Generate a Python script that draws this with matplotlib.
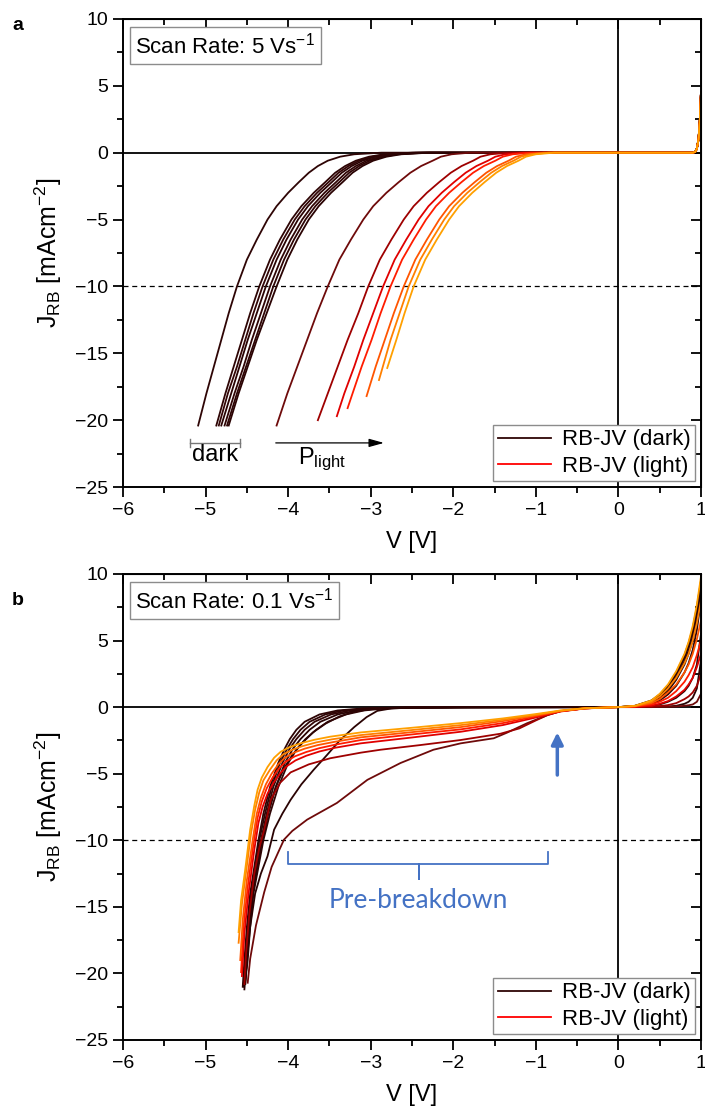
import matplotlib
matplotlib.use('Agg')
import numpy as np
import matplotlib.pyplot as plt
from matplotlib.lines import Line2D
from matplotlib.ticker import MultipleLocator

plt.rcParams['font.family'] = ['Liberation Sans', 'DejaVu Sans']
plt.rcParams['mathtext.default'] = 'regular'

# ---------------- panel a: 5 V/s ----------------
# J levels (mA/cm2) shared by the reverse branches, V read at each level
a_J = [-20.4, -18, -16, -14, -12, -10, -8, -6.5, -5, -4, -3, -2.2, -1.5, -1, -0.6, -0.3, -0.12, 0.0]
nan = np.nan
a_dark_V = [
    [-5.09, -4.99, -4.90, -4.81, -4.72, -4.62, -4.50, -4.38, -4.25, -4.14, -4.00, -3.87, -3.75, -3.64, -3.52, -3.37, -3.20, -2.87],
    [-4.87, -4.76, -4.66, -4.56, -4.46, -4.35, -4.22, -4.10, -3.96, -3.84, -3.69, -3.55, -3.43, -3.31, -3.18, -3.02, -2.84, -2.50],
    [-4.84, -4.73, -4.62, -4.52, -4.42, -4.31, -4.18, -4.06, -3.92, -3.80, -3.65, -3.51, -3.39, -3.27, -3.14, -2.98, -2.80, -2.46],
    [-4.81, -4.69, -4.59, -4.49, -4.38, -4.27, -4.14, -4.02, -3.88, -3.76, -3.61, -3.47, -3.35, -3.23, -3.10, -2.94, -2.76, -2.42],
    [-4.77, -4.65, -4.54, -4.44, -4.33, -4.22, -4.09, -3.97, -3.83, -3.71, -3.56, -3.42, -3.30, -3.18, -3.05, -2.89, -2.71, -2.37],
    [-4.74, -4.62, -4.51, -4.40, -4.29, -4.18, -4.05, -3.93, -3.79, -3.67, -3.52, -3.38, -3.26, -3.14, -3.01, -2.85, -2.67, -2.33],
    [-4.72, -4.60, -4.49, -4.38, -4.26, -4.14, -4.01, -3.89, -3.75, -3.63, -3.48, -3.34, -3.22, -3.10, -2.97, -2.81, -2.63, -2.29],
]
a_light_V = [
    [-4.14, -4.01, -3.89, -3.77, -3.65, -3.52, -3.38, -3.24, -3.09, -2.97, -2.81, -2.66, -2.52, -2.39, -2.25, -2.15, -2.02, -1.80],
    [nan, -3.52, -3.40, -3.28, -3.15, -3.03, -2.89, -2.75, -2.60, -2.48, -2.32, -2.17, -2.03, -1.90, -1.76, -1.67, -1.55, -1.33],
    [nan, -3.32, -3.20, -3.09, -2.97, -2.85, -2.71, -2.57, -2.42, -2.30, -2.14, -1.99, -1.85, -1.72, -1.58, -1.49, -1.37, -1.15],
    [nan, -3.22, -3.11, -2.99, -2.88, -2.76, -2.62, -2.48, -2.33, -2.21, -2.05, -1.90, -1.76, -1.63, -1.49, -1.40, -1.28, -1.06],
    [nan, nan, -2.94, -2.83, -2.72, -2.60, -2.46, -2.32, -2.17, -2.05, -1.89, -1.74, -1.60, -1.47, -1.33, -1.24, -1.12, -0.90],
    [nan, nan, nan, -2.76, -2.65, -2.54, -2.40, -2.26, -2.11, -1.99, -1.83, -1.68, -1.54, -1.41, -1.27, -1.18, -1.06, -0.84],
    [nan, nan, nan, -2.69, -2.59, -2.48, -2.34, -2.20, -2.05, -1.93, -1.77, -1.62, -1.48, -1.35, -1.21, -1.12, -1.00, -0.78],
]
# end points of the light curves
a_light_end_V = [-4.14, -3.64, -3.41, -3.28, -3.05, -2.90, -2.80]
a_light_end_J = [-20.4, -20.0, -19.7, -19.1, -18.2, -17.0, -16.1]
# forward branch near 1 V
a_fwd_V = [0.0, 0.9, 0.93, 0.95, 0.97, 0.985, 1.0]
a_fwd_J = [0.0, 0.0, 0.05, 0.3, 1.0, 2.3, 4.5]

# ---------------- panel b: 0.1 V/s ----------------
b_dark_V = [
    [-4.55, -4.53, -4.50, -4.46, -4.41, -4.36, -4.30, -4.22, -4.12, -4.04, -3.98, -3.90, -3.80, -3.62, -3.40, -3.10, -2.70, -2.00, 0.0],
    [-4.54, -4.52, -4.49, -4.45, -4.40, -4.35, -4.28, -4.20, -4.10, -4.01, -3.94, -3.85, -3.74, -3.55, -3.33, -3.03, -2.64, -1.95, 0.0],
    [-4.53, -4.51, -4.48, -4.44, -4.39, -4.33, -4.26, -4.18, -4.07, -3.98, -3.90, -3.80, -3.68, -3.48, -3.25, -2.96, -2.58, -1.90, 0.0],
    [-4.52, -4.50, -4.47, -4.43, -4.37, -4.31, -4.24, -4.15, -4.04, -3.94, -3.85, -3.74, -3.61, -3.40, -3.17, -2.89, -2.52, -1.85, 0.0],
    [-4.52, -4.49, -4.46, -4.42, -4.36, -4.30, -4.22, -4.12, -4.00, -3.89, -3.79, -3.66, -3.52, -3.30, -3.08, -2.82, -2.46, -1.80, 0.0],
    [-4.52, -4.50, -4.47, -4.43, -4.38, -4.32, -4.25, -4.15, -4.05, -3.95, -3.83, -3.70, -3.55, -3.38, -3.20, -3.00, -2.60, -1.90, 0.0],
    [-4.53, -4.50, -4.46, -4.40, -4.33, -4.25, -4.17, -4.07, -3.97, -3.84, -3.69, -3.53, -3.37, -3.20, -3.05, -2.92, -2.75, -2.50, 0.0],
]
b_dark_J = [
    [-21.0, -19.0, -16.5, -14.0, -12.0, -10.0, -8.0, -6.0, -4.2, -3.1, -2.4, -1.7, -1.1, -0.55, -0.25, -0.1, -0.04, -0.01, 0.0],
    [-21.0, -19.0, -16.5, -14.0, -12.0, -10.0, -8.0, -6.0, -4.2, -3.1, -2.4, -1.7, -1.1, -0.55, -0.25, -0.1, -0.04, -0.01, 0.0],
    [-20.8, -19.0, -16.5, -14.0, -12.0, -10.0, -8.0, -6.0, -4.2, -3.1, -2.4, -1.7, -1.1, -0.55, -0.25, -0.1, -0.04, -0.01, 0.0],
    [-20.8, -19.0, -16.5, -14.0, -12.0, -10.0, -8.0, -6.0, -4.2, -3.1, -2.4, -1.7, -1.1, -0.55, -0.25, -0.1, -0.04, -0.01, 0.0],
    [-20.6, -19.0, -16.5, -14.0, -12.0, -10.0, -8.0, -6.0, -4.2, -3.1, -2.4, -1.7, -1.1, -0.55, -0.25, -0.1, -0.04, -0.01, 0.0],
    [-20.8, -19.0, -16.5, -14.0, -12.0, -10.0, -8.0, -6.0, -4.6, -3.6, -2.7, -1.9, -1.25, -0.7, -0.35, -0.15, -0.04, -0.01, 0.0],
    [-21.2, -19.0, -16.5, -14.0, -12.5, -11.2, -9.2, -8.0, -6.96, -5.8, -4.7, -3.6, -2.47, -1.5, -0.75, -0.28, -0.1, -0.04, 0.0],
]
b_light_V = [
    [-4.49, -4.46, -4.39, -4.29, -4.20, -4.12, -4.05, -3.95, -3.77, -3.41, -3.04, -2.64, -2.24, -1.91, -1.51, -1.35, -1.11, -0.86, -0.70, -0.40, 0.0],
    [-4.53, -4.51, -4.47, -4.41, -4.35, -4.29, -4.21, -4.10, -3.97, -3.75, -3.49, -3.12, -2.88, -2.40, -1.91, -1.43, -1.20, -1.00, -0.86, -0.70, -0.40, 0.0],
    [-4.56, -4.53, -4.48, -4.41, -4.36, -4.31, -4.25, -4.18, -4.10, -4.02, -3.91, -3.78, -3.62, -3.43, -3.12, -2.50, -1.91, -1.40, -1.00, -0.70, -0.40, 0.0],
    [-4.57, -4.54, -4.49, -4.42, -4.37, -4.32, -4.26, -4.19, -4.11, -4.03, -3.92, -3.78, -3.62, -3.43, -3.12, -2.50, -1.91, -1.40, -1.00, -0.70, -0.40, 0.0],
    [-4.58, -4.55, -4.50, -4.43, -4.38, -4.33, -4.27, -4.20, -4.12, -4.04, -3.93, -3.80, -3.64, -3.45, -3.12, -2.50, -1.91, -1.40, -1.00, -0.70, -0.40, 0.0],
    [-4.60, -4.56, -4.51, -4.45, -4.40, -4.35, -4.30, -4.22, -4.14, -4.06, -3.95, -3.82, -3.66, -3.47, -3.12, -2.50, -1.91, -1.40, -1.00, -0.70, -0.40, 0.0],
    [-4.60, -4.57, -4.52, -4.46, -4.41, -4.37, -4.32, -4.25, -4.17, -4.09, -3.98, -3.85, -3.68, -3.49, -3.12, -2.50, -1.91, -1.40, -1.00, -0.70, -0.40, 0.0],
]
b_light_J = [
    [-20.7, -18.9, -16.4, -13.9, -12.0, -10.9, -9.95, -9.3, -8.45, -7.2, -5.46, -4.2, -3.2, -2.72, -2.34, -1.92, -1.22, -0.6, -0.3, -0.09, 0.0],
    [-20.8, -18.5, -15.5, -12.5, -10.6, -9.2, -6.96, -5.7, -4.9, -4.3, -3.84, -3.42, -3.2, -2.85, -2.47, -2.0, -1.6, -1.0, -0.6, -0.3, -0.09, 0.0],
    [-20.2, -17.0, -14.0, -10.7, -8.7, -7.5, -6.5, -5.7, -5.0, -4.45, -4.0, -3.65, -3.33, -3.05, -2.72, -2.28, -1.85, -1.35, -0.78, -0.33, -0.10, 0.0],
    [-19.9, -16.5, -13.5, -10.3, -8.3, -7.1, -6.1, -5.3, -4.6, -4.1, -3.7, -3.37, -3.08, -2.82, -2.47, -2.05, -1.67, -1.2, -0.7, -0.31, -0.09, 0.0],
    [-19.0, -16.0, -13.0, -10.0, -8.0, -6.8, -5.8, -5.0, -4.3, -3.8, -3.42, -3.12, -2.85, -2.62, -2.27, -1.88, -1.5, -1.05, -0.63, -0.29, -0.09, 0.0],
    [-17.7, -14.8, -12.4, -9.5, -7.7, -6.4, -5.5, -4.7, -4.0, -3.55, -3.2, -2.92, -2.65, -2.42, -2.1, -1.72, -1.35, -0.95, -0.58, -0.27, -0.08, 0.0],
    [-16.9, -14.5, -12.2, -9.2, -7.4, -6.2, -5.3, -4.5, -3.8, -3.35, -3.0, -2.72, -2.45, -2.22, -1.9, -1.55, -1.2, -0.85, -0.52, -0.25, -0.08, 0.0],
]
b_fwd_V = [0.0, 0.2, 0.4, 0.5, 0.6, 0.7, 0.8, 0.85, 0.9, 0.95, 1.0]
b_dark_fwd_J = [
    [0, 0.1, 0.5, 0.95, 1.6, 2.6, 3.9, 4.8, 5.9, 7.5, 9.5],
    [0, 0.09, 0.45, 0.9, 1.5, 2.45, 3.7, 4.55, 5.6, 7.2, 9.2],
    [0, 0.08, 0.4, 0.8, 1.35, 2.25, 3.45, 4.25, 5.3, 6.8, 8.8],
    [0, 0.07, 0.35, 0.7, 1.2, 2.05, 3.2, 4.0, 5.0, 6.5, 8.5],
    [0, 0.05, 0.25, 0.5, 0.95, 1.6, 2.6, 3.3, 4.3, 5.8, 8.0],
    [0, 0.02, 0.1, 0.2, 0.4, 0.7, 1.2, 1.6, 2.2, 3.2, 5.5],
    [0, 0.0, 0.02, 0.03, 0.05, 0.1, 0.25, 0.4, 0.7, 1.4, 3.5],
]
b_light_fwd_J = [
    [0, 0.0, 0.0, 0.01, 0.02, 0.05, 0.1, 0.14, 0.2, 0.4, 1.0],
    [0, 0.01, 0.04, 0.08, 0.15, 0.3, 0.6, 0.8, 1.1, 1.6, 2.5],
    [0, 0.02, 0.1, 0.25, 0.45, 0.8, 1.3, 1.7, 2.2, 3.0, 4.0],
    [0, 0.04, 0.2, 0.4, 0.7, 1.2, 1.9, 2.4, 3.0, 3.9, 5.0],
    [0, 0.06, 0.3, 0.6, 1.1, 1.7, 2.6, 3.2, 4.0, 5.1, 6.5],
    [0, 0.08, 0.4, 0.8, 1.4, 2.2, 3.3, 4.0, 5.0, 6.3, 8.0],
    [0, 0.1, 0.5, 1.0, 1.7, 2.7, 4.0, 4.9, 6.1, 7.7, 9.8],
]

dark_colors = ['#2e0505', '#2e0505', '#330606', '#2b0404', '#300505', '#2e0505', '#2a0303']
light_colors = ['#6e0a0a', '#9e0000', '#e00000', '#ff1c00', '#ff5500', '#ff8000', '#ffa000']
blue = '#4472c4'
LW = 1.3


def style_axes(ax):
    ax.set_xlim(-6, 1)
    ax.set_ylim(-25, 10)
    ax.xaxis.set_major_locator(MultipleLocator(1))
    ax.xaxis.set_minor_locator(MultipleLocator(0.5))
    ax.yaxis.set_major_locator(MultipleLocator(5))
    ax.yaxis.set_minor_locator(MultipleLocator(2.5))
    ax.tick_params(which='both', direction='out', width=1.3, labelsize=14)
    ax.tick_params(which='major', length=7)
    ax.tick_params(which='minor', length=4)
    for sp in ax.spines.values():
        sp.set_linewidth(1.4)
    # inward ticks on top and right
    top = ax.secondary_xaxis('top')
    top.xaxis.set_major_locator(MultipleLocator(1))
    top.xaxis.set_minor_locator(MultipleLocator(0.5))
    top.tick_params(which='both', direction='in', width=1.3, labeltop=False)
    top.tick_params(which='major', length=7)
    top.tick_params(which='minor', length=4)
    right = ax.secondary_yaxis('right')
    right.yaxis.set_major_locator(MultipleLocator(5))
    right.yaxis.set_minor_locator(MultipleLocator(2.5))
    right.tick_params(which='both', direction='in', width=1.3, labelright=False)
    right.tick_params(which='major', length=7)
    right.tick_params(which='minor', length=4)
    ax.axhline(0, color='black', lw=1.3, zorder=1)
    ax.axvline(0, color='black', lw=1.3, zorder=1)
    ax.axhline(-10, color='black', lw=0.9, ls=(0, (4, 3)), zorder=1)
    ax.set_xlabel('V [V]', fontsize=17, labelpad=9)
    ax.set_ylabel(r'J$_{RB}$ [mAcm$^{-2}$]', fontsize=18, labelpad=8)
    handles = [Line2D([], [], color='#2e0505', lw=1.3), Line2D([], [], color='#ff0000', lw=1.3)]
    leg = ax.legend(handles, ['RB-JV (dark)', 'RB-JV (light)'], loc='lower right',
                    fontsize=16, frameon=True, fancybox=False, framealpha=1,
                    edgecolor='#8c8c8c', borderaxespad=0.25, handlelength=2.4,
                    handletextpad=0.5, borderpad=0.2, labelspacing=0.25)
    leg.get_frame().set_linewidth(1.0)


fig = plt.figure(figsize=(7.05, 11.13), dpi=100)
ax1 = fig.add_axes([0.1745, 0.5624, 0.8198, 0.4206])
ax2 = fig.add_axes([0.1745, 0.0656, 0.8198, 0.4187])

# panel a curves
for i, v in enumerate(a_dark_V):
    ax1.plot(list(v) + a_fwd_V, list(a_J) + a_fwd_J, color=dark_colors[i], lw=LW, zorder=2)
for i, v in enumerate(a_light_V):
    vv = [a_light_end_V[i]] + [x for x in v if not np.isnan(x)] + a_fwd_V
    jj = [a_light_end_J[i]] + [j for x, j in zip(v, a_J) if not np.isnan(x)] + a_fwd_J
    ax1.plot(vv, jj, color=light_colors[i], lw=LW, zorder=2)

# panel b curves
for i in range(len(b_dark_V)):
    ax2.plot(b_dark_V[i] + b_fwd_V, b_dark_J[i] + b_dark_fwd_J[i],
             color=dark_colors[i], lw=LW, zorder=2)
for i in range(len(b_light_V)):
    ax2.plot(b_light_V[i] + b_fwd_V, b_light_J[i] + b_light_fwd_J[i],
             color=light_colors[i], lw=LW, zorder=2)

style_axes(ax1)
style_axes(ax2)

# scan rate boxes
box = dict(boxstyle='square,pad=0.25', fc='white', ec='#8c8c8c', lw=1.0)
ax1.text(-5.85, 8.0, r'Scan Rate: 5 Vs$^{-1}$', fontsize=16, va='center', ha='left', bbox=box)
ax2.text(-5.85, 8.0, r'Scan Rate: 0.1 Vs$^{-1}$', fontsize=16, va='center', ha='left', bbox=box)

# panel a annotations
ax1.plot([-5.19, -4.58], [-21.7, -21.7], color='#777777', lw=1.0)
ax1.plot([-5.19, -5.19], [-21.4, -22.0], color='#777777', lw=1.0)
ax1.plot([-4.58, -4.58], [-21.4, -22.0], color='#777777', lw=1.0)
ax1.text(-4.88, -22.6, 'dark', fontsize=17, ha='center', va='center')
ax1.annotate('', xy=(-2.84, -21.7), xytext=(-4.15, -21.7),
             arrowprops=dict(arrowstyle='-|>,head_length=0.9,head_width=0.25', color='black',
                             lw=0.9, shrinkA=0, shrinkB=0))
ax1.text(-3.88, -23.3, r'P$_{light}$', fontsize=17, ha='left', va='baseline')

# panel b annotations
ax2.plot([-4.0, -4.0, -2.41, -2.41, -2.41, -0.85, -0.85],
         [-10.85, -11.8, -11.8, -12.9, -11.8, -11.8, -10.85], color=blue, lw=1.3)
ax2.text(-2.42, -14.5, 'Pre-breakdown', fontsize=19, color=blue, ha='center', va='center',
         family=['Lato', 'DejaVu Sans'])
ax2.annotate('', xy=(-0.74, -1.9), xytext=(-0.74, -5.1),
             arrowprops=dict(arrowstyle='-|>,head_length=0.7,head_width=0.35', color=blue,
                             lw=2.5, shrinkA=0, shrinkB=0))

fig.text(0.017, 0.985, 'a', fontsize=14, fontweight='bold', va='top')
fig.text(0.017, 0.468, 'b', fontsize=14, fontweight='bold', va='top')

fig.savefig('out.png', dpi=100)
